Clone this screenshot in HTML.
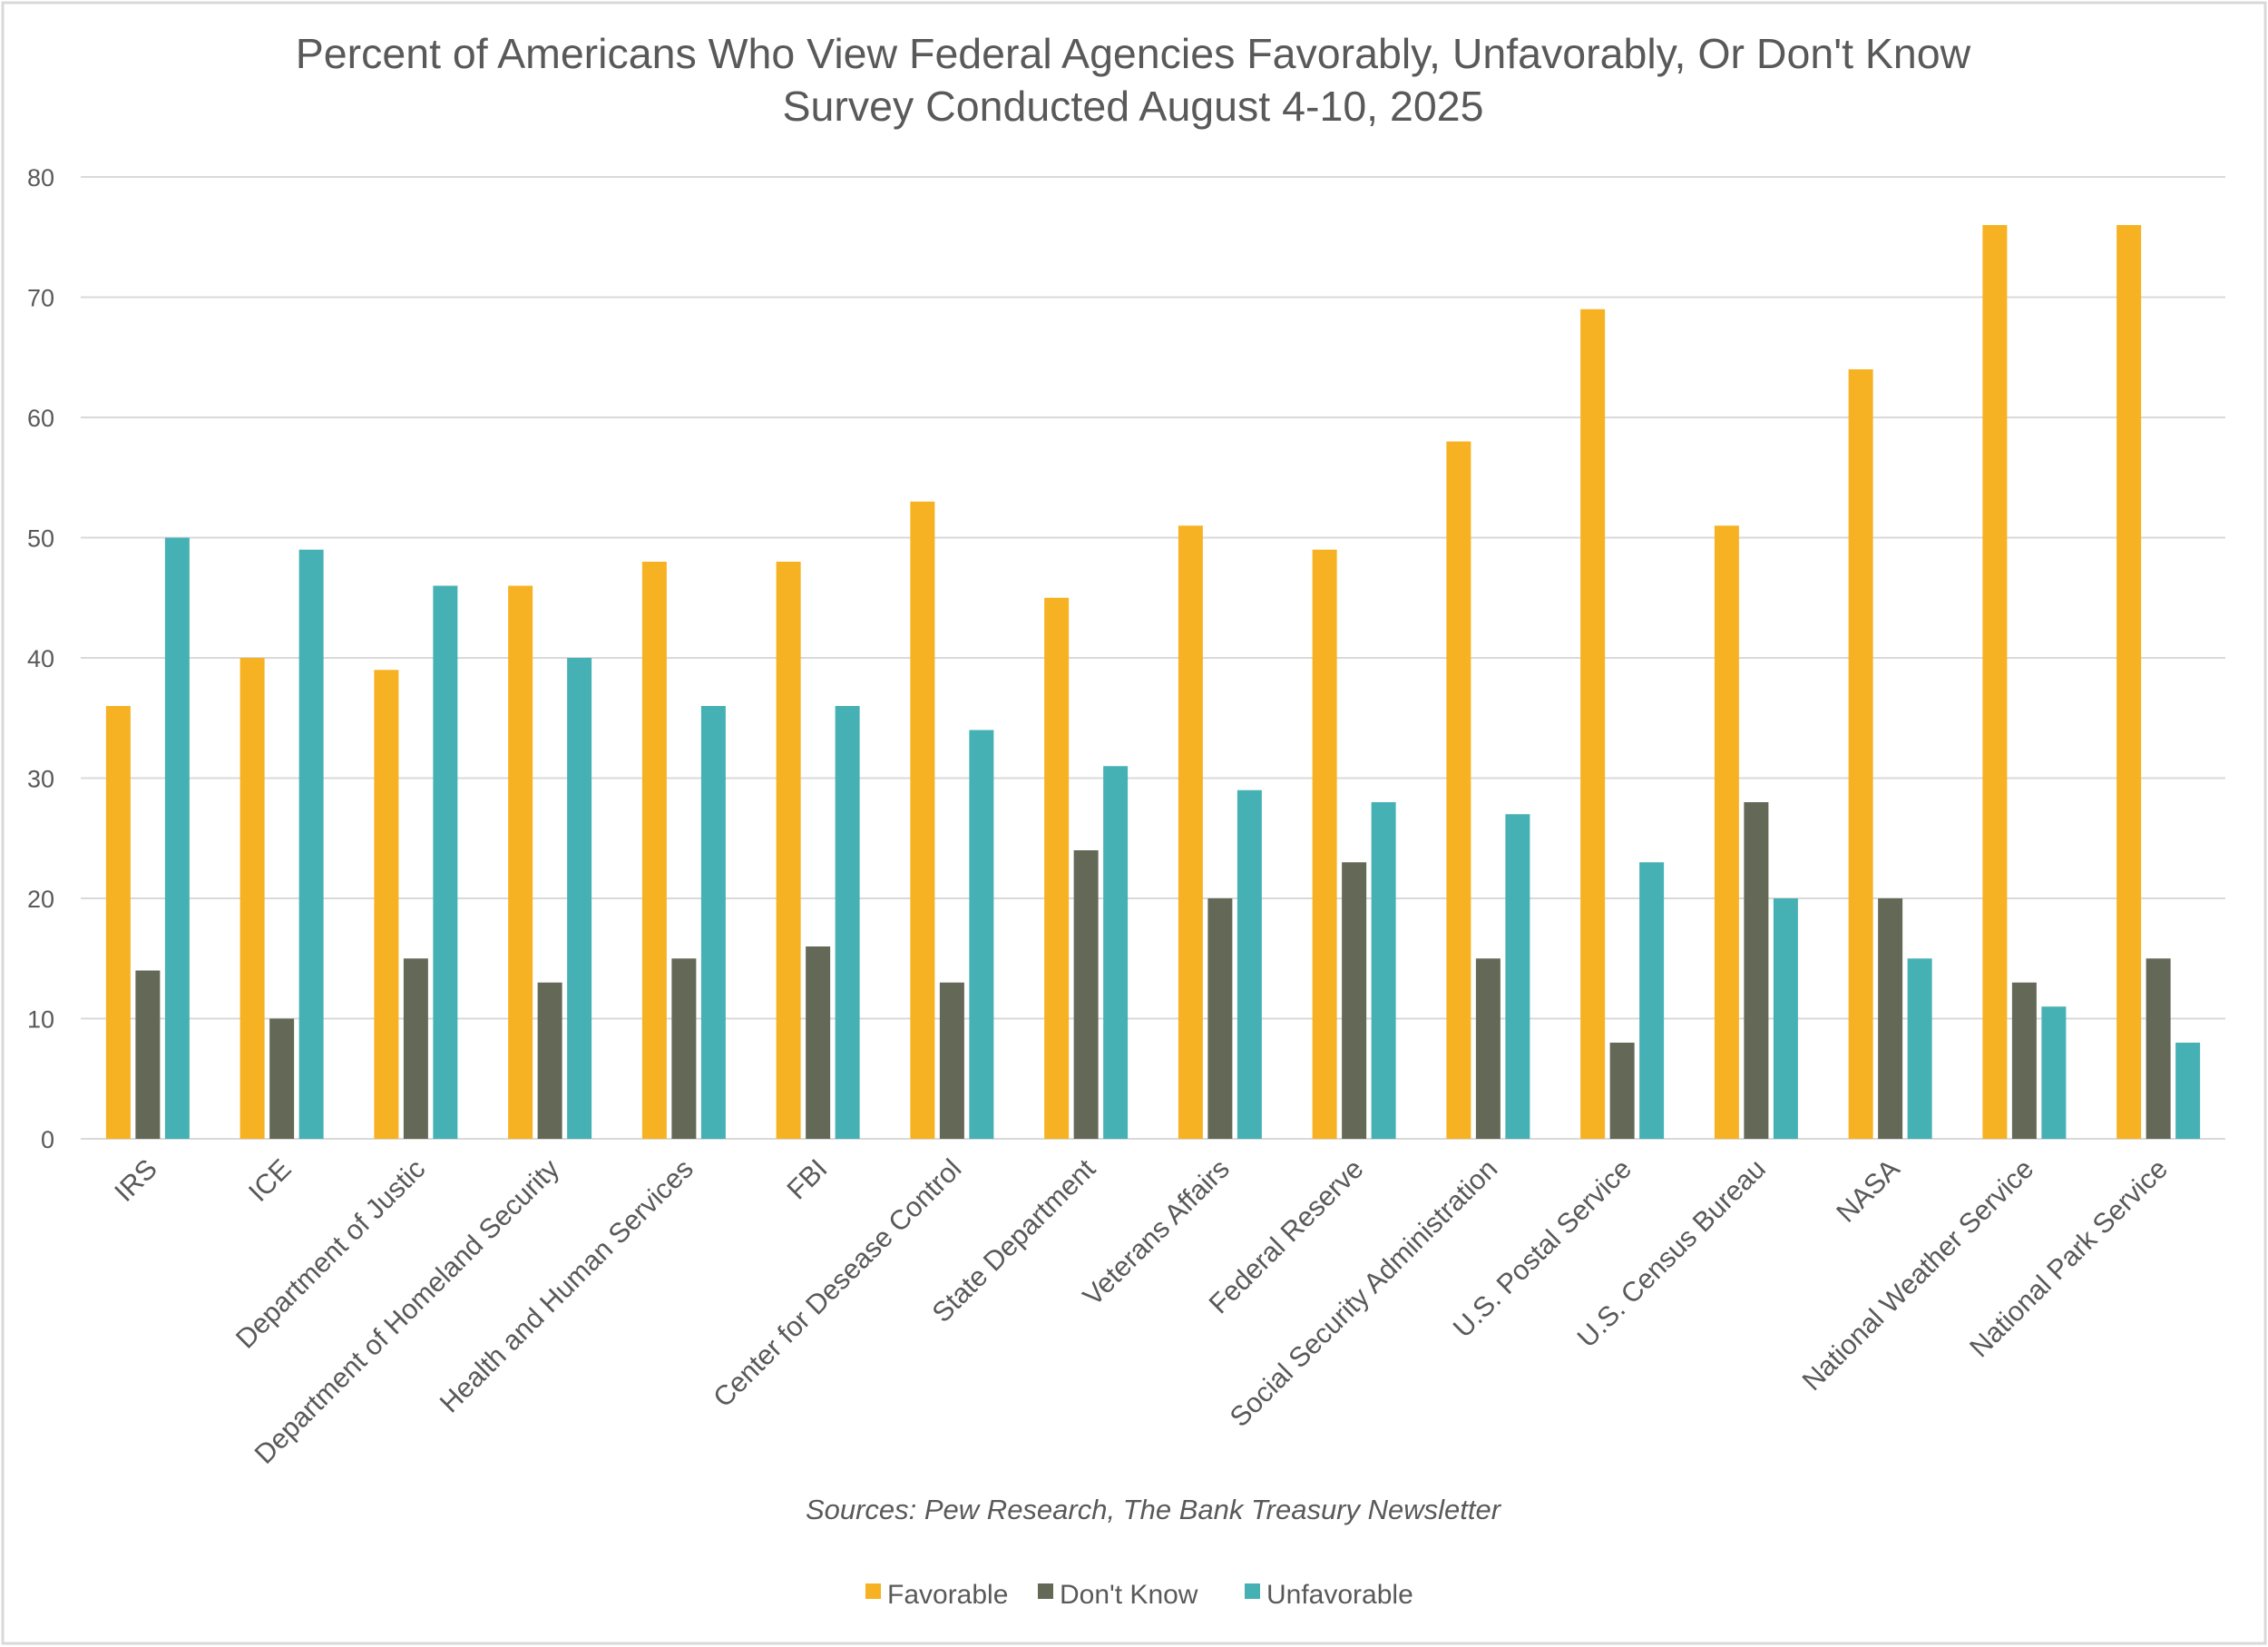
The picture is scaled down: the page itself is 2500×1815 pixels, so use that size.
<!DOCTYPE html>
<html><head><meta charset="utf-8"><style>
body{margin:0;background:#fff;}
svg{display:block;font-family:"Liberation Sans",sans-serif;}
</style></head><body>
<svg id="chart" width="2500" height="1815" viewBox="0 0 2500 1815">
<rect x="3" y="3" width="2494" height="1808" fill="#fff" stroke="#d9d9d9" stroke-width="3"/>
<text x="1249" y="75" text-anchor="middle" font-size="46.5" fill="#595959">Percent of Americans Who View Federal Agencies Favorably, Unfavorably, Or Don't Know</text>
<text x="1249" y="133" text-anchor="middle" font-size="46.5" fill="#595959">Survey Conducted August 4-10, 2025</text>
<g id="grid"></g><g id="bars"></g><g id="xlabels"></g>
<text x="1271" y="1674" text-anchor="middle" font-size="31" font-style="italic" fill="#595959">Sources: Pew Research, The Bank Treasury Newsletter</text>
<g>
<rect x="954" y="1745" width="17" height="17" fill="#F6B222"/>
<text x="978" y="1767" font-size="30" fill="#595959">Favorable</text>
<rect x="1144" y="1745" width="17" height="17" fill="#646957"/>
<text x="1168" y="1767" font-size="30" fill="#595959">Don't Know</text>
<rect x="1372" y="1745" width="17" height="17" fill="#46B1B5"/>
<text x="1396" y="1767" font-size="30" fill="#595959">Unfavorable</text>
</g>
</svg>
<script>
const categories=["IRS","ICE","Department of Justic","Department of Homeland Security","Health and Human Services","FBI","Center for Desease Control","State Department","Veterans Affairs","Federal Reserve","Social Security Administration","U.S. Postal Service","U.S. Census Bureau","NASA","National Weather Service","National Park Service"];
const favorable=[36,40,39,46,48,48,53,45,51,49,58,69,51,64,76,76];
const dontKnow=[14,10,15,13,15,16,13,24,20,23,15,8,28,20,13,15];
const unfavorable=[50,49,46,40,36,36,34,31,29,28,27,23,20,15,11,8];
const yTicks=[0,10,20,30,40,50,60,70,80];
const NS="http://www.w3.org/2000/svg";
const L=89,R=2453,Y0=1255,Ymax=80,Ytop=195;
const y=v=>Y0-(v/Ymax)*(Y0-Ytop);
const bw=(R-L)/categories.length;
const xc=i=>L+bw*(i+0.5);
function mk(t,a){const e=document.createElementNS(NS,t);for(const k in a)e.setAttribute(k,a[k]);return e;}
const grid=document.getElementById('grid');
yTicks.forEach(t=>{
 const ln=mk('line',{x1:L,x2:R,y1:y(t),y2:y(t),stroke:'#d9d9d9','stroke-width':2});
 
 
 grid.appendChild(ln);
 const tx=mk('text',{x:60,y:y(t)+10,'text-anchor':'end','font-size':27,fill:'#595959'});
 tx.textContent=t;
 
 
 grid.appendChild(tx);
});
const bars=document.getElementById('bars');
const series=[[favorable,'#F6B222','favorable'],[dontKnow,'#646957','dont-know'],[unfavorable,'#46B1B5','unfavorable']];
const w=27,pitch=32.5;
categories.forEach((c,i)=>{
 series.forEach((s,j)=>{
  const v=s[0][i];
  const x=xc(i)+(j-1)*pitch-w/2;
  const r=mk('rect',{x:x,y:y(v),width:w,height:Y0-y(v),fill:s[1]});
  
  
  bars.appendChild(r);
 });
 const tx=mk('text',{x:0,y:0,'text-anchor':'end','font-size':30.5,fill:'#595959',transform:`translate(${xc(i)+12},${1290}) rotate(-45)`});
 tx.textContent=c;
 
 
 document.getElementById('xlabels').appendChild(tx);
});
</script>
</body></html>
